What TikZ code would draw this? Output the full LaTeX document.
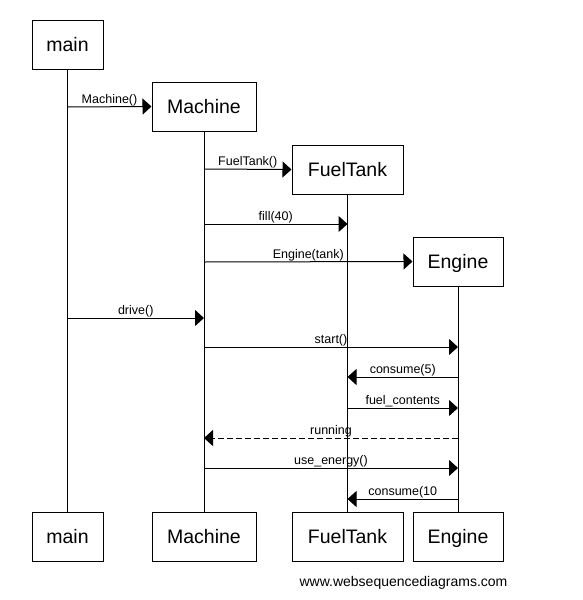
\documentclass[tikz,border=0pt]{standalone}
\usepackage{fontspec}
\setmainfont{Liberation Sans}
\usetikzlibrary{arrows.meta}
\begin{document}
\begin{tikzpicture}[x=1pt,y=-1pt,
  actor/.style={draw,line width=1pt,minimum height=49pt,inner sep=0pt,
    text height=14pt,text depth=0pt,
    font=\fontsize{19.5}{22}\selectfont},
  life/.style={line width=1pt},
  msg/.style={line width=1pt,-{Triangle[length=9pt,width=16pt]}},
  reply/.style={msg,dash pattern=on 6pt off 3pt},
  lbl/.style={anchor=south,inner sep=0pt,yshift=0.5pt,
    font=\fontsize{12.5}{14}\selectfont}]
\useasboundingbox (0,0) rectangle (583,600);

% participants, top row
\node[actor,minimum width=71pt]  (mainT) at (67.5,44.5)  {main};
\node[actor,minimum width=104pt] (machT) at (204,106.5)  {Machine};
\node[actor,minimum width=111pt] (tankT) at (347.5,169.5) {FuelTank};
\node[actor,minimum width=90pt]  (engT)  at (458,261.5)  {Engine};

% participants, bottom row
\node[actor,minimum width=71pt]  (mainB) at (67.5,536.5)  {main};
\node[actor,minimum width=104pt] (machB) at (204,536.5)   {Machine};
\node[actor,minimum width=111pt] (tankB) at (347.5,536.5) {FuelTank};
\node[actor,minimum width=90pt]  (engB)  at (458,536.5)   {Engine};

% lifelines
\draw[life] (mainT) -- (mainB);
\draw[life] (machT) -- (machB);
\draw[life] (tankT) -- (tankB);
\draw[life] (engT)  -- (engB);

% messages
\draw[msg] (mainT |- 0,107) -- node[lbl]{Machine()} (machT.west);
\draw[msg] (machT |- 0,169) -- node[lbl]{FuelTank()} (tankT.west);
\draw[msg] (machT |- 0,224) -- node[lbl]{fill(40)} (tankT |- 0,224);
\draw[msg] (machT |- 0,262) -- node[lbl]{Engine(tank)} (engT.west);
\draw[msg] (mainT |- 0,318) -- node[lbl]{drive()} (machT |- 0,318);
\draw[msg] (machT |- 0,347) -- node[lbl]{start()} (engT |- 0,347);
\draw[msg] (engT |- 0,377) -- node[lbl]{consume(5)} (tankT |- 0,377);
\draw[msg] (tankT |- 0,408) -- node[lbl]{fuel\_contents} (engT |- 0,408);
\draw[reply] (engT |- 0,438) -- node[lbl]{running} (machT |- 0,438);
\draw[msg] (machT |- 0,468) -- node[lbl]{use\_energy()} (engT |- 0,468);
\draw[msg] (engT |- 0,499) -- node[lbl]{consume(10} (tankT |- 0,499);

% footer
\node[anchor=base,inner sep=0pt,font=\fontsize{14}{16}\selectfont] (credit)
  at (403.5,586) {www.websequencediagrams.com};
\end{tikzpicture}
\end{document}
